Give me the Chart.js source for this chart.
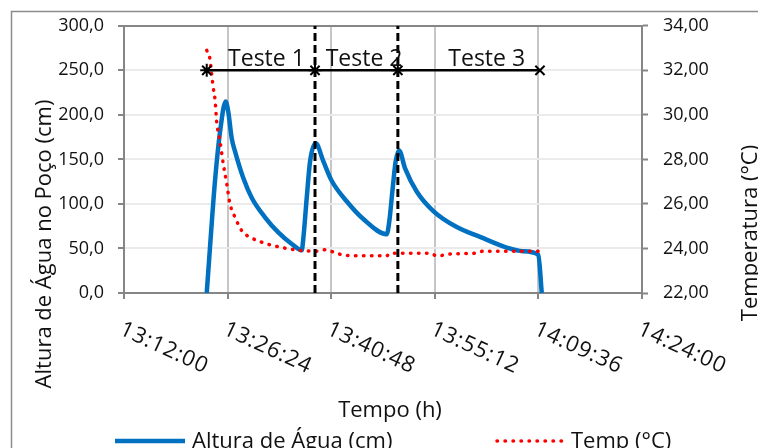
<!DOCTYPE html>
<html>
<head>
<meta charset="utf-8">
<script src="https://cdn.jsdelivr.net/npm/chart.js@4.4.0/dist/chart.umd.min.js"></script>
<style>
  html, body { margin: 0; padding: 0; background: #fff; }
  canvas { display: block; }
</style>
</head>
<body>
<canvas id="myChart" width="758" height="448"></canvas>
<script>
// dados
const alturaTimes = ['13:23:30','13:23:57','13:24:39','13:25:21','13:26:08','13:26:30','13:26:58','13:27:26','13:28:35','13:29:45',
  '13:31:36','13:33:27','13:35:19','13:36:42','13:36:56','13:37:24','13:37:52','13:38:39','13:39:42','13:40:52',
  '13:42:57','13:45:16','13:48:31','13:48:53','13:49:21','13:49:46','13:50:14','13:51:04','13:52:41','13:55:00',
  '13:58:15','14:01:29','14:05:12','14:07:25','14:09:35','14:10:04'];
const alturaValues = [0, 51, 126, 181, 215, 203, 174, 159, 129, 107,
  85, 68, 55, 48, 62, 107, 148, 168, 148, 126,
  103, 83, 66, 81, 118, 148, 160, 140, 114, 92,
  74, 63, 51, 47, 43, 0];

const tempTimes = ['13:23:30','13:23:57','13:24:11','13:24:25','13:24:39','13:24:53','13:25:21','13:25:48','13:26:17','13:26:44',
  '13:27:26','13:28:22','13:29:52','13:31:44','13:33:41','13:36:28','13:38:47','13:39:56','13:41:06','13:42:43',
  '13:45:44','13:48:31','13:48:58','13:54:32','13:55:28','13:57:46','14:01:02','14:01:57','14:09:49'];
const tempValues = [32.9, 32.5, 31.85, 31.2, 30.7, 29.7, 28.8, 27.8, 26.9, 26.0,
  25.4, 24.8, 24.45, 24.22, 24.06, 23.91, 23.88, 23.94, 23.84, 23.69,
  23.67, 23.67, 23.79, 23.79, 23.67, 23.76, 23.79, 23.88, 23.88];

// inicio/fim dos testes
const testTimes = ['13:23:30','13:38:33','13:50:04','14:09:49'];
const testLevel = 250;
const testNames = ['Teste 1', 'Teste 2', 'Teste 3'];
const testLabelTimes = ['13:31:48', '13:45:22', '14:02:25'];

const xMin = '13:12:00', xMax = '14:24:00', xStep = 864; // 14:24 min
const yLeftTicks = [0, 300, 50];
const yRightTicks = [22, 34, 2];

const FONT = '"Open Sans", sans-serif';

function toSec(t) {
  const p = t.split(':').map(Number);
  return p[0] * 3600 + p[1] * 60 + p[2];
}
function fmtTime(v) {
  const h = Math.floor(v / 3600), m = Math.floor((v % 3600) / 60), s = Math.round(v % 60);
  return [h, m, s].map(n => String(n).padStart(2, '0')).join(':');
}

const ctx = document.getElementById('myChart').getContext('2d');

const boundaryDatasets = [testTimes[1], testTimes[2]].map(t => ({
  label: 'limite',
  data: [{ x: toSec(t), y: yLeftTicks[0] }, { x: toSec(t), y: yLeftTicks[1] }],
  yAxisID: 'y',
  borderColor: '#000',
  borderWidth: 3,
  borderDash: [8, 4],
  pointRadius: 0,
  order: 1
}));

const extras = {
  id: 'extras',
  beforeDraw(chart) {
    const c = chart.ctx;
    c.save();
    c.fillStyle = '#fff';
    c.fillRect(0, 0, chart.width, chart.height);
    c.strokeStyle = '#8c8c8c';
    c.lineWidth = 1.5;
    c.strokeRect(11.5, 11.5, chart.width + 20, chart.height + 20);
    c.restore();
  },
  afterDatasetsDraw(chart) {
    const c = chart.ctx;
    const xs = chart.scales.x, ys = chart.scales.y;
    c.save();
    c.fillStyle = '#111';
    c.font = '23px ' + FONT;
    c.textAlign = 'center';
    c.textBaseline = 'alphabetic';
    testNames.forEach((n, i) => {
      c.fillText(n, xs.getPixelForValue(toSec(testLabelTimes[i])), ys.getPixelForValue(testLevel) - 4);
    });
    c.restore();
  },
  afterDraw(chart) {
    const c = chart.ctx;
    const xs = chart.scales.x;
    const area = chart.chartArea;
    c.save();
    c.fillStyle = '#111';

    // rótulos do eixo x (inclinados)
    c.font = '22px ' + FONT;
    c.letterSpacing = '1px';
    c.textAlign = 'left';
    c.textBaseline = 'middle';
    xs.ticks.forEach(t => {
      c.save();
      c.translate(xs.getPixelForValue(t.value) - 3, xs.top + 35);
      c.rotate(25 * Math.PI / 180);
      c.fillText(fmtTime(t.value), 0, 0);
      c.restore();
    });
    c.letterSpacing = '0px';

    // titulos
    c.font = '22px ' + FONT;
    c.textAlign = 'center';
    c.textBaseline = 'alphabetic';
    c.fillText('Tempo (h)', (area.left + area.right) / 2 + 7, 417);

    c.save();
    c.translate(51, area.bottom - 49);
    c.rotate(-Math.PI / 2);
    c.fillText('Altura de Água no Poço (cm)', 0, 0);
    c.restore();

    c.save();
    c.translate(757, area.bottom - 60);
    c.rotate(-Math.PI / 2);
    c.fillText('Temperatura (°C)', 0, 0);
    c.restore();

    // legenda
    const ly = 441;
    c.strokeStyle = '#0070c0';
    c.lineWidth = 4.5;
    c.beginPath(); c.moveTo(115, ly); c.lineTo(185, ly); c.stroke();
    c.strokeStyle = '#ff0000';
    c.lineWidth = 3.5;
    c.lineCap = 'round';
    c.setLineDash([0.5, 7.5]);
    c.beginPath(); c.moveTo(497, ly); c.lineTo(562, ly); c.stroke();
    c.setLineDash([]);
    c.textAlign = 'left';
    c.fillText('Altura de Água (cm)', 192, 448);
    c.fillText('Temp (°C)', 571, 448);
    c.restore();
  }
};

const chart = new Chart(ctx, {
  type: 'line',
  data: {
    datasets: [
      {
        label: 'Testes',
        data: testTimes.map(t => ({ x: toSec(t), y: testLevel })),
        yAxisID: 'y',
        borderColor: '#000',
        borderWidth: 2.5,
        pointStyle: ['star', 'star', 'star', 'crossRot'],
        pointRadius: 6.5,
        pointBorderWidth: 2,
        pointBorderColor: '#000',
        pointBackgroundColor: '#000',
        order: 0
      },
      ...boundaryDatasets,
      {
        label: 'Temp (°C)',
        data: tempTimes.map((t, i) => ({ x: toSec(t), y: tempValues[i] })),
        yAxisID: 'y1',
        borderColor: '#ff0000',
        borderWidth: 3.5,
        borderDash: [0.5, 7.5],
        borderCapStyle: 'round',
        cubicInterpolationMode: 'monotone',
        pointRadius: 0,
        order: 2
      },
      {
        label: 'Altura de Água (cm)',
        data: alturaTimes.map((t, i) => ({ x: toSec(t), y: alturaValues[i] })),
        yAxisID: 'y',
        borderColor: '#0070c0',
        borderWidth: 4.5,
        borderJoinStyle: 'round',
        cubicInterpolationMode: 'monotone',
        pointRadius: 0,
        order: 3
      }
    ]
  },
  options: {
    responsive: false,
    animation: false,
    layout: { padding: { top: 23, left: 0, right: 0, bottom: 0 } },
    plugins: { legend: { display: false }, tooltip: { enabled: false } },
    scales: {
      x: {
        type: 'linear',
        min: toSec(xMin),
        max: toSec(xMax),
        ticks: { stepSize: xStep, display: false },
        grid: {
          color: '#c6c6c6',
          lineWidth: 2,
          tickLength: 6,
          tickColor: '#868686',
          tickWidth: 2
        },
        border: { color: '#868686', width: 2 },
        afterFit: s => { s.height = 155; }
      },
      y: {
        position: 'left',
        min: yLeftTicks[0],
        max: yLeftTicks[1],
        ticks: {
          stepSize: yLeftTicks[2],
          padding: 14,
          color: '#111',
          font: { family: FONT, size: 18 },
          callback: v => v.toFixed(1).replace('.', ',')
        },
        grid: {
          color: c => (c.tick && c.tick.value === yLeftTicks[1]) ? '#868686' : '#ebebeb',
          lineWidth: 2,
          tickLength: 6,
          tickColor: '#868686',
          tickWidth: 2
        },
        border: { color: '#868686', width: 2 },
        afterFit: s => { s.width = 124; }
      },
      y1: {
        position: 'right',
        min: yRightTicks[0],
        max: yRightTicks[1],
        ticks: {
          stepSize: yRightTicks[2],
          padding: 15,
          color: '#111',
          font: { family: FONT, size: 18 },
          callback: v => v.toFixed(2).replace('.', ',')
        },
        grid: {
          drawOnChartArea: false,
          tickLength: 6,
          tickColor: '#868686',
          tickWidth: 2
        },
        border: { color: '#868686', width: 2 },
        afterFit: s => { s.width = 116; }
      }
    }
  },
  plugins: [extras]
});
</script>
</body>
</html>
